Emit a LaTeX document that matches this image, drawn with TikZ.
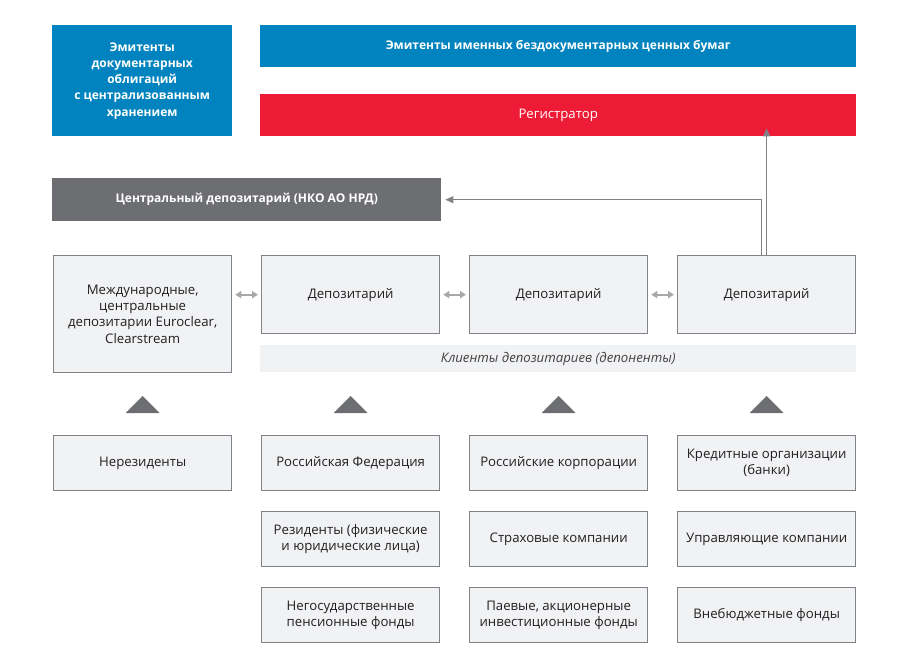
\documentclass[tikz,border=0pt]{standalone}
\usepackage{fontspec}
\setmainfont{Open Sans}
\usetikzlibrary{arrows.meta,calc}
\definecolor{nblue}{HTML}{0083BE}
\definecolor{nred}{HTML}{EE1B36}
\definecolor{ndark}{HTML}{6D6E71}
\definecolor{nfill}{HTML}{F1F2F4}
\definecolor{nline}{HTML}{808285}
\definecolor{ntext}{HTML}{231F20}
\begin{document}
\begin{tikzpicture}[x=1pt,y=-1pt,
  every node/.style={inner sep=2pt, align=center, font=\fontsize{13.2}{16.2}\selectfont},
  bfont/.style={font=\fontsize{12}{16.2}\selectfont\bfseries},
  colbox/.style={anchor=north west, fill=#1, text=white, draw=none},
  gbox/.style={anchor=north west, fill=nfill, draw=nline, line width=1.3pt, text=ntext, minimum width=178pt},
  arr/.style={draw=nline, line width=1.3pt, -{Triangle[length=8pt,width=7pt]}},
  dbl/.style={draw=nline!70, line width=2pt, {Triangle[length=6pt,width=7pt]}-{Triangle[length=6pt,width=7pt]}},
  tri/.style={fill=ndark}
]
\useasboundingbox (0,0) rectangle (916,659);

\node[colbox=nblue, minimum width=180pt, minimum height=111pt, bfont] (emd) at (52,25)
  {Эмитенты\\документарных\\облигаций\\с централизованным\\хранением};
\node[colbox=nblue, minimum width=596pt, minimum height=42pt, bfont] (emn) at (260,25)
  {Эмитенты именных бездокументарных ценных бумаг};
\node[colbox=nred, minimum width=596pt, minimum height=42pt] (reg) at (260,94) {Регистратор};
\node[colbox=ndark, minimum width=389pt, minimum height=43pt, bfont] (cd) at (52,178)
  {Центральный депозитарий (НКО АО НРД)};

\node[gbox, minimum height=117pt] (intl) at (53,255) {Международные,\\центральные\\депозитарии Euroclear,\\Clearstream};
\node[gbox, minimum height=78pt] (d1) at (261,255) {Депозитарий};
\node[gbox, minimum height=78pt] (d2) at (469,255) {Депозитарий};
\node[gbox, minimum height=78pt] (d3) at (677,255) {Депозитарий};

\node[anchor=north west, fill=nfill, minimum width=596pt, minimum height=27pt, text=ntext!85, font=\fontsize{13.2}{16.2}\selectfont\itshape] (cl) at (260,345)
  {Клиенты депозитариев (депоненты)};

\draw[dbl] ([xshift=3pt]intl.east |- d1.west) -- ([xshift=-3pt]d1.west);
\draw[dbl] ([xshift=3pt]d1.east) -- ([xshift=-3pt]d2.west);
\draw[dbl] ([xshift=3pt]d2.east) -- ([xshift=-3pt]d3.west);

\draw[arr] ([xshift=-5pt]d3.north) |- ([xshift=4pt]cd.east);
\draw[arr] (d3.north) -- ([yshift=8pt]d3.north |- reg.south);

\node[gbox, minimum height=55pt] (b11) at (53,435) {Нерезиденты};
\node[gbox, minimum height=55pt] (b21) at (261,435) {Российская Федерация};
\node[gbox, minimum height=55pt] (b31) at (469,435) {Российские корпорации};
\node[gbox, minimum height=55pt] (b41) at (677,435) {Кредитные организации\\(банки)};
\node[gbox, minimum height=55pt] (b22) at (261,511) {Резиденты (физические\\и юридические лица)};
\node[gbox, minimum height=55pt] (b32) at (469,511) {Страховые компании};
\node[gbox, minimum height=55pt] (b42) at (677,511) {Управляющие компании};
\node[gbox, minimum height=55pt] (b23) at (261,587) {Негосударственные\\пенсионные фонды};
\node[gbox, minimum height=55pt] (b33) at (469,587) {Паевые, акционерные\\инвестиционные фонды};
\node[gbox, minimum height=55pt] (b43) at (677,587) {Внебюджетные фонды};

\foreach \b in {b11,b21,b31,b41}{
  \fill[tri] ($(\b.north)+(-17,-22)$) -- ($(\b.north)+(0,-39)$) -- ($(\b.north)+(17,-22)$) -- cycle;
}
\end{tikzpicture}
\end{document}
